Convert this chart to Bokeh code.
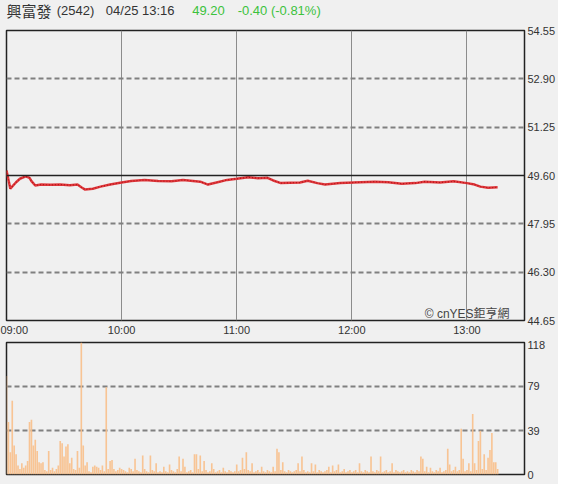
from bokeh.plotting import figure
from bokeh.layouts import column
from bokeh.models import FixedTicker, NumeralTickFormatter, Span, Label, Range1d
from bokeh.core.properties import value
from bokeh.embed import file_html
from bokeh.resources import INLINE

# ---------------- data ----------------
stock_name = "興富發"
stock_code = "(2542)"
stamp = "04/25 13:16"
last_price = "49.20"
change_text = "-0.40 (-0.81%)"
watermark = "© cnYES鉅亨網"

prev_close = 49.60
price_ticks = [44.65, 46.30, 47.95, 49.60, 51.25, 52.90, 54.55]
vol_ticks = [0, 39, 79, 118]
hour_ticks = [0, 60, 120, 180, 240]          # minutes after 09:00
hour_labels = ["09:00", "10:00", "11:00", "12:00", "13:00"]

price_minutes = [0, 2, 5, 7, 10, 12, 13, 15, 18, 23, 28, 33, 37, 39, 41, 45, 49,
                 54, 60, 65, 72, 79, 86, 92, 101, 105, 110, 115, 120, 126, 131,
                 136, 139, 143, 148, 153, 157, 162, 166, 174, 181, 192, 199, 206,
                 213, 218, 226, 233, 240, 244, 247, 251, 256]
prices = [49.77, 49.15, 49.37, 49.49, 49.57, 49.52, 49.41, 49.26, 49.29, 49.28,
          49.29, 49.27, 49.29, 49.20, 49.12, 49.15, 49.22, 49.29, 49.36, 49.41,
          49.45, 49.41, 49.40, 49.45, 49.39, 49.29, 49.37, 49.45, 49.49, 49.54,
          49.51, 49.52, 49.43, 49.34, 49.35, 49.36, 49.42, 49.34, 49.29, 49.34,
          49.36, 49.39, 49.37, 49.32, 49.34, 49.39, 49.36, 49.40, 49.34, 49.29,
          49.22, 49.18, 49.20]

volumes = [
    88, 47, 20, 66, 26, 18, 8, 5, 10, 6, 8, 12, 47, 49, 26, 31, 21, 11, 10, 11,
    4, 3, 21, 4, 6, 3, 5, 8, 30, 28, 16, 25, 27, 10, 15, 5, 4, 21, 6, 118,
    26, 8, 11, 3, 2, 7, 8, 7, 6, 4, 8, 3, 78, 5, 12, 13, 5, 3, 4, 6,
    5, 4, 3, 2, 6, 5, 3, 14, 4, 3, 2, 17, 5, 3, 2, 17, 4, 3, 10, 2,
    3, 2, 7, 3, 2, 9, 4, 3, 2, 5, 16, 3, 14, 7, 2, 3, 4, 2, 18, 18,
    5, 17, 3, 12, 4, 2, 3, 10, 5, 2, 3, 4, 2, 6, 3, 2, 4, 3, 2, 3,
    9, 3, 4, 15, 5, 20, 4, 3, 10, 2, 3, 4, 2, 7, 3, 2, 4, 3, 2, 7,
    3, 23, 20, 4, 11, 3, 2, 4, 3, 2, 3, 4, 10, 3, 16, 4, 2, 3, 2, 10,
    3, 9, 2, 4, 3, 2, 3, 4, 7, 2, 8, 3, 4, 9, 2, 3, 5, 2, 3, 4,
    2, 3, 4, 2, 10, 3, 2, 4, 3, 2, 16, 3, 2, 4, 3, 16, 2, 3, 4, 2,
    3, 10, 2, 4, 3, 2, 3, 4, 2, 3, 2, 4, 3, 2, 4, 3, 16, 14, 3, 7,
    2, 6, 3, 2, 4, 3, 6, 2, 3, 4, 23, 9, 3, 4, 7, 3, 4, 41, 14, 3,
    4, 10, 3, 54, 10, 4, 30, 39, 5, 18, 4, 15, 22, 37, 11, 11, 5,
]
vol_minutes = list(range(len(volumes)))

# ---------------- styling ----------------
BG = "#f0f0f0"
LATIN = "Liberation Sans"
CJK = "Noto Sans CJK TC"
W = 558
X_END = 270


def base(fig):
    fig.background_fill_color = BG
    fig.border_fill_color = BG
    fig.outline_line_color = "#222222"
    fig.outline_line_width = 1.5


def style_axis(ax):
    ax.axis_line_color = None
    ax.major_tick_line_color = None
    ax.minor_tick_line_color = None
    ax.major_tick_in = 0
    ax.major_tick_out = 0
    ax.major_label_standoff = 3
    ax.major_label_text_font = LATIN
    ax.major_label_text_font_size = "11px"
    ax.major_label_text_color = "#333333"


# header
hdr = figure(width=W, height=22, x_range=Range1d(0, W), y_range=Range1d(0, 22),
             x_axis_location=None, y_axis_location=None,
             output_backend="svg", toolbar_location=None, min_border=0)
hdr.background_fill_color = BG
hdr.border_fill_color = BG
hdr.outline_line_color = None
hdr.grid.visible = False
hdr.text(x=[0], y=[12], text=[stock_name], text_font=value(CJK),
         text_font_size="15px", text_color="#333333", text_baseline="middle")
hdr.text(x=[54, 107], y=[12, 12], text=[stock_code, stamp], text_font=value(LATIN),
         text_font_size="13px", text_color="#333333", text_baseline="middle")
hdr.text(x=[200, 249], y=[12, 12], text=[last_price, change_text], text_font=value(LATIN),
         text_font_size="13px", text_color="#3cc23c", text_baseline="middle")

# price chart
top = figure(width=W, height=318, x_range=Range1d(0, X_END),
             y_range=Range1d(price_ticks[0], price_ticks[-1]),
             y_axis_location="right", output_backend="svg", toolbar_location=None,
             min_border_left=6, min_border_right=32, min_border_top=8, min_border_bottom=20)
base(top)
top.xgrid.ticker = FixedTicker(ticks=hour_ticks[1:])
top.xgrid.grid_line_color = "#8c8c8c"
top.xgrid.grid_line_width = 1
top.ygrid.ticker = FixedTicker(ticks=[t for t in price_ticks[1:-1] if t != prev_close])
top.ygrid.grid_line_color = "#808080"
top.ygrid.grid_line_width = 2
top.ygrid.grid_line_dash = "5 3"

top.add_layout(Span(location=prev_close, dimension="width", line_color="#222222",
                    line_width=1.5))
top.line(price_minutes, prices, line_color="#e0393d", line_width=2.5)
top.line(price_minutes, prices, line_color="#b01418", line_width=1.2, line_dash="1 2")
top.add_layout(Label(x=218, y=44.86, text=watermark, text_font_size="12px",
                     text_font=LATIN + ", " + CJK, text_color="#444444",
                     text_baseline="middle"))

top.xaxis.ticker = FixedTicker(ticks=hour_ticks)
top.xaxis.major_label_overrides = dict(zip(hour_ticks, hour_labels))
top.xaxis.major_label_text_align = "left"
top.yaxis.ticker = FixedTicker(ticks=price_ticks)
top.yaxis.formatter = NumeralTickFormatter(format="0.00")
top.yaxis.major_label_text_baseline = "alphabetic"
style_axis(top.xaxis[0])
style_axis(top.yaxis[0])

# volume chart
vol = figure(width=W, height=144, x_range=top.x_range,
             y_range=Range1d(vol_ticks[0], vol_ticks[-1]),
             y_axis_location="right", x_axis_location=None,
             output_backend="svg", toolbar_location=None,
             min_border_left=6, min_border_right=32, min_border_top=2, min_border_bottom=10)
base(vol)
vol.xgrid.visible = False
vol.ygrid.ticker = FixedTicker(ticks=vol_ticks[1:-1])
vol.ygrid.grid_line_color = "#808080"
vol.ygrid.grid_line_width = 2
vol.ygrid.grid_line_dash = "5 3"
vol.vbar(x=vol_minutes, top=volumes, bottom=0, width=0.85,
         fill_color="#f8bf8a", fill_alpha=0.9, line_color=None)
vol.yaxis.ticker = FixedTicker(ticks=vol_ticks)
vol.yaxis.major_label_text_baseline = "top"
style_axis(vol.yaxis[0])

layout = column(hdr, top, vol, spacing=0)
layout.styles = {"background-color": BG}

open("out.html", "w").write(file_html(layout, INLINE))
